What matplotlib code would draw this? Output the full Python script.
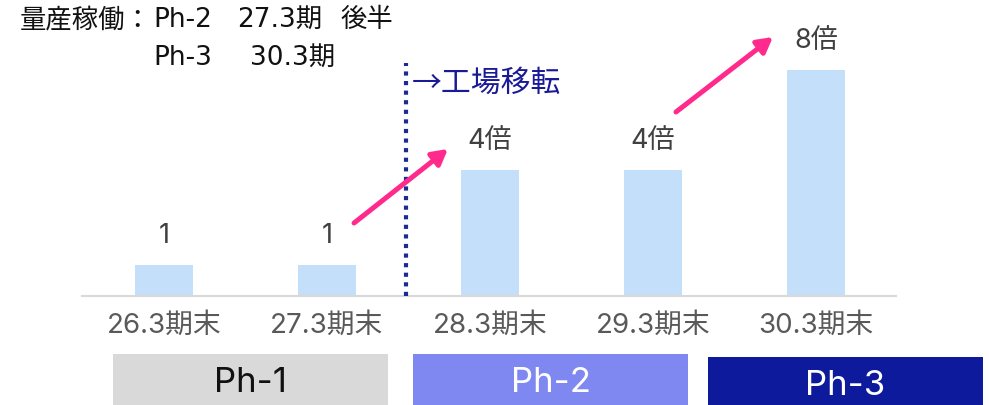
import matplotlib
matplotlib.use("Agg")
import matplotlib.pyplot as plt
from matplotlib.patches import Rectangle

plt.rcParams['font.family'] = ['Inter', 'Noto Sans CJK JP', 'DejaVu Sans']

# ---- data ----
categories = ["26.3期末", "27.3期末", "28.3期末", "29.3期末", "30.3期末"]
values = [1.1, 1.1, 4.45, 4.45, 8.0]
value_labels = ["1", "1", "4倍", "4倍", "8倍"]
phases = ["Ph-1", "Ph-2", "Ph-3"]
phase_colors = ["#d9d9d9", "#7f88f0", "#0d1a9b"]
phase_text_colors = ["#111111", "#ffffff", "#ffffff"]
header_line1 = ["量産稼働：", "Ph-2", "27.3期", "後半"]
header_line2 = ["Ph-3", "30.3期"]
move_label = "→工場移転"

W, H = 989, 405
fig = plt.figure(figsize=(W / 100, H / 100), dpi=100)

# main bar axes
ax = fig.add_axes([82 / W, 109 / H, 814 / W, 296 / H])
ax.bar(range(len(categories)), values, width=0.356, color="#c4dffa", zorder=2)
ax.set_xlim(-0.503, 4.491)
ax.set_ylim(0, 10.478)
for s in ["top", "right", "left"]:
    ax.spines[s].set_visible(False)
ax.spines["bottom"].set_color("#d9d9d9")
ax.spines["bottom"].set_linewidth(1.5)
ax.set_yticks([])
ax.set_xticks(range(len(categories)))
ax.set_xticklabels(categories, fontsize=20, color="#595959")
ax.tick_params(axis="x", length=0, pad=12)
ax.patch.set_alpha(0)

for i, (v, lab) in enumerate(zip(values, value_labels)):
    ax.text(i, v + 1.03, lab, ha="center", va="center", fontsize=19.5, color="#404040")

# dotted divider
ax.plot([1.485, 1.485], [0, 8.25], linestyle=(0, (1, 1.3)), color="#1a2a96", lw=3,
        zorder=3, clip_on=False)
ax.text(1.52, 7.54, move_label, ha="left", va="center", fontsize=21.5, color="#1a1a96",
        family=['Noto Sans CJK JP', 'DejaVu Sans'])

# pink arrows
arrow_kw = dict(arrowstyle="-|>,head_length=0.9,head_width=0.5", color="#ff2a8c", lw=3.6,
                shrinkA=0, shrinkB=0)
ax.annotate("", xy=(1.742, 5.204), xytext=(1.166, 2.584), arrowprops=arrow_kw,
            annotation_clip=False, zorder=4)
ax.annotate("", xy=(3.736, 9.168), xytext=(3.141, 6.513), arrowprops=arrow_kw,
            annotation_clip=False, zorder=4)

# header text (pieces placed separately to mimic the wide spacing)
hdr_fam = ['DejaVu Sans', 'Noto Sans CJK JP']
for x, s in zip([20, 153, 237, 340], header_line1):
    fig.text(x / W, 1 - 20 / H, s, ha="left", va="center", fontsize=19,
             color="#111111", family=hdr_fam)
for x, s in zip([153, 250], header_line2):
    fig.text(x / W, 1 - 58 / H, s, ha="left", va="center", fontsize=19,
             color="#111111", family=hdr_fam)

# phase boxes (overlay in pixel coordinates)
ov = fig.add_axes([0, 0, 1, 1])
ov.set_xlim(0, W)
ov.set_ylim(H, 0)
ov.axis("off")
ov.patch.set_alpha(0)
boxes = [(113, 354, 275, 51), (413, 354, 275, 51), (708, 357, 275, 48)]
for (x0, y0, w, h), name, fc, tc in zip(boxes, phases, phase_colors, phase_text_colors):
    ov.add_patch(Rectangle((x0, y0), w, h, facecolor=fc, edgecolor="none"))
    ov.text(x0 + w / 2, y0 + 29, name, ha="center", va="center", fontsize=25, color=tc)

fig.savefig("out.png", dpi=100)
